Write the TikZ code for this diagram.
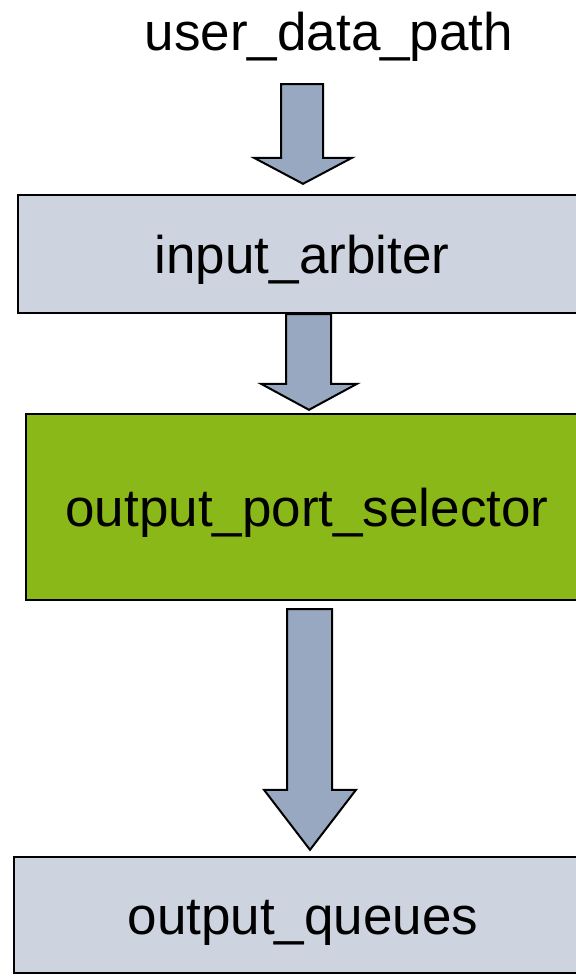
\documentclass[tikz,border=0pt]{standalone}
\usepackage{fontspec}
\usetikzlibrary{calc}
\setmainfont{Liberation Sans}
\definecolor{boxfill}{HTML}{CDD4DF}
\definecolor{arrowfill}{HTML}{98A8C0}
\definecolor{selgreen}{HTML}{8AB819}
% #1 from node, #2 to node, #3 shaft x, #4 head x, #5 top gap, #6 head length,
% #7 tip gap, #8 half shaft width, #9 half head width
\newcommand{\blockarrow}[9]{%
  \draw[arrowshape] let \p1=(#1.south), \p2=(#2.north) in
    ({(#3-#8)*1pt},{\y1-#5pt}) -- ({(#3+#8)*1pt},{\y1-#5pt})
    -- ({(#3+#8)*1pt},{\y2+#7pt+#6pt}) -- ({(#4+#9)*1pt},{\y2+#7pt+#6pt})
    -- ({#4*1pt},{\y2+#7pt}) -- ({(#4-#9)*1pt},{\y2+#7pt+#6pt})
    -- ({(#3-#8)*1pt},{\y2+#7pt+#6pt}) -- cycle;}
\begin{document}
\begin{tikzpicture}[x=1pt,y=-1pt,
  blockbox/.style={draw=black, line width=2.4pt, rectangle, inner sep=0pt,
    text height=38pt, text depth=0pt,
    font=\fontsize{53}{60}\selectfont},
  arrowshape/.style={draw=black, line width=2pt, fill=arrowfill, line join=miter}]
\useasboundingbox (0,0) rectangle (576,978);
\clip (0,0) rectangle (576,978);
\fill[white] (0,0) rectangle (576,978);
\node[anchor=base, inner sep=0pt, font=\fontsize{53}{60}\selectfont] (udp) at (329,50) {user\_data\_path};
\node[blockbox, fill=boxfill, minimum width=572pt, minimum height=118pt] (ia) at (304,254) {\hspace*{-4pt}input\_arbiter};
\node[blockbox, fill=selgreen, minimum width=562pt, minimum height=186pt] (ops) at (307,507) {output\_port\_selector};
\node[blockbox, fill=boxfill, minimum width=578pt, minimum height=116pt] (oq) at (303,915) {output\_queues};
\blockarrow{udp}{ia}{302}{303}{23}{26}{10}{21}{49}
\blockarrow{ia}{ops}{308.5}{309}{0}{26}{3}{22.5}{48}
\blockarrow{ops}{oq}{309.5}{310}{8}{60}{6}{22.5}{46}
\end{tikzpicture}
\end{document}
